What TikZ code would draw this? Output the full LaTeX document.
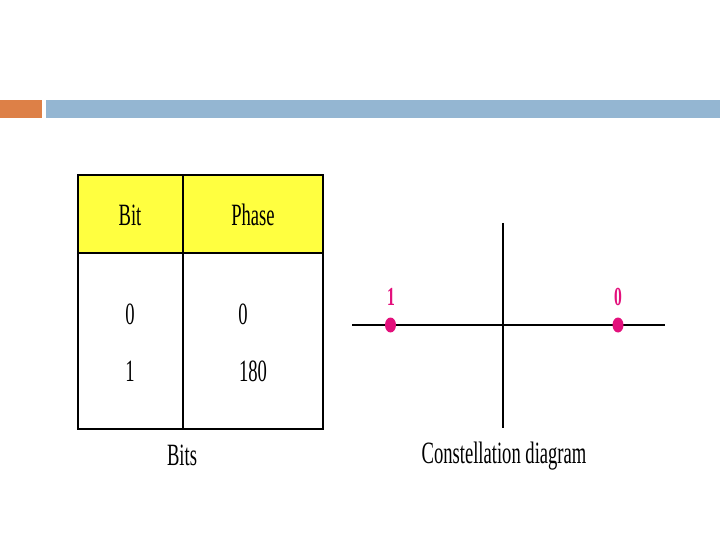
\documentclass[tikz,border=0pt]{standalone}
\usepackage{fontspec}
\setmainfont{Liberation Serif}[FakeStretch=0.6]
\usetikzlibrary{shapes.geometric}
\definecolor{barorange}{HTML}{DD8047}
\definecolor{barblue}{HTML}{94B6D2}
\definecolor{hdryellow}{HTML}{FFFF40}
\definecolor{ptmag}{HTML}{E3107C}
\begin{document}
\begin{tikzpicture}[x=1pt,y=-1pt,
  cell/.style={draw=black,line width=1.3pt,inner sep=0pt,outer sep=0pt,anchor=north west},
  txt/.style={inner sep=0pt,font=\fontsize{31}{34}\selectfont},
  lbl/.style={inner sep=0pt,font=\fontsize{26}{29}\selectfont\bfseries,text=ptmag},
  pt/.style={ellipse,fill=ptmag,inner sep=0pt,minimum width=11pt,minimum height=15pt},
  axis/.style={draw=black}]
\useasboundingbox (0,0) rectangle (720,540);
% header bars
\fill[barorange] (0,100) rectangle (42,118);
\fill[barblue] (46,100) rectangle (720,118);
% table
\node[cell,fill=hdryellow,minimum width=105pt,minimum height=78pt] (hbit) at (78,175) {};
\node[cell,fill=hdryellow,minimum width=140pt,minimum height=78pt] (hphase) at (183,175) {};
\node[cell,minimum width=105pt,minimum height=176pt] (bbit) at (78,253) {};
\node[cell,minimum width=140pt,minimum height=176pt] (bphase) at (183,253) {};
\node[txt] (tbit) at (130,215) {Bit};
\node[txt] (tphase) at (253,215) {Phase};
\node[txt] (b0) at (130,314) {0};
\node[txt] (b1) at (130,371) {1};
\node[txt] (p0) at (243,314) {0};
\node[txt] (p180) at (253,371) {180};
\node[txt] (bits) at (182,455) {Bits};
% constellation
\coordinate (hl) at (352,325);
\coordinate (hr) at (665,325);
\coordinate (vt) at (503,223);
\coordinate (vb) at (503,428);
\draw[axis,line width=2.8pt] (hl) -- (hr);
\draw[axis,line width=1.4pt] (vt) -- (vb);
\node[pt] (one) at (390.5,325) {};
\node[pt] (zero) at (618,325) {};
\node[lbl] (lone) at (391,297) {1};
\node[lbl] (lzero) at (618,297) {0};
\node[txt] (cap) at (504,456) {Constellation diagram};
\end{tikzpicture}
\end{document}
